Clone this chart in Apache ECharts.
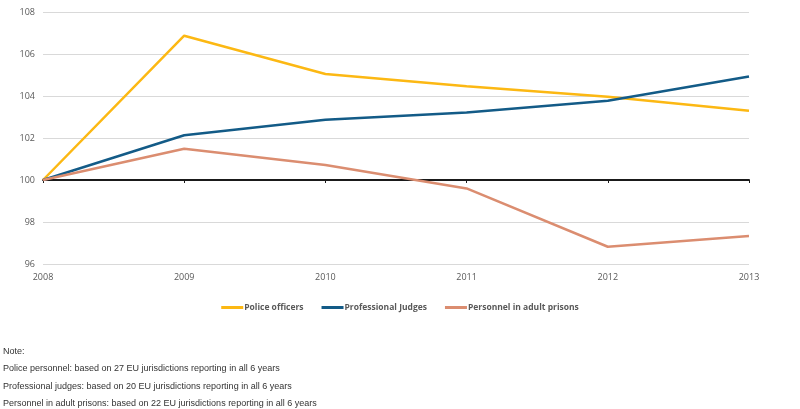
<!DOCTYPE html>
<html>
<head>
<meta charset="utf-8">
<script src="https://cdn.jsdelivr.net/npm/echarts@6/dist/echarts.min.js"></script>
<style>
html,body{margin:0;padding:0;background:#fff;}
#chart{width:800px;height:409px;}
</style>
</head>
<body>
<div id="chart"></div>
<script>
// years and index values (2008 = 100)
var years = ['2008', '2009', '2010', '2011', '2012', '2013'];
var police = [100, 106.87, 105.05, 104.47, 103.96, 103.3];
var judges = [100, 102.13, 102.87, 103.22, 103.77, 104.93];
var prisons = [100, 101.49, 100.71, 99.6, 96.82, 97.33];
var noteLines = [
    'Note:',
    'Police personnel: based on 27 EU jurisdictions reporting in all 6 years',
    'Professional judges: based on 20 EU jurisdictions reporting in all 6 years',
    'Personnel in adult prisons: based on 22 EU jurisdictions reporting in all 6 years'
];

var myChart = echarts.init(document.getElementById('chart'));

var notes = [];
for (var i = 0; i < noteLines.length; i++) {
    notes.push({
        type: 'text',
        left: 3,
        top: 347 + i * 17.3,
        style: {
            text: noteLines[i],
            fill: '#333',
            font: '9px "Liberation Sans", Arial, sans-serif'
        }
    });
}

function line(name, data, color) {
    return {
        name: name,
        type: 'line',
        data: data,
        symbol: 'none',
        lineStyle: { width: 2.5, color: color },
        itemStyle: { color: color }
    };
}

var option = {
    animation: false,
    grid: { left: 43, right: 51, top: 12, bottom: 145 },
    legend: {
        bottom: 92,
        left: 'center',
        itemWidth: 22,
        itemHeight: 3,
        itemGap: 18,
        icon: 'rect',
        textStyle: { color: '#595959', fontSize: 8.5, fontWeight: 'bold', fontFamily: 'Open Sans, sans-serif', padding: [0, 0, 0, -4] },
        data: ['Police officers', 'Professional Judges', 'Personnel in adult prisons']
    },
    xAxis: [
        {
            type: 'category',
            boundaryGap: false,
            data: years,
            axisLine: { show: false },
            axisTick: { show: false },
            axisLabel: { color: '#595959', fontSize: 9, margin: 9, fontFamily: 'Open Sans, sans-serif' }
        },
        {
            // the thick baseline drawn at 100
            type: 'category',
            boundaryGap: false,
            data: years,
            position: 'bottom',
            offset: -84,
            axisLine: { show: true, lineStyle: { color: '#1a1a1a', width: 2 } },
            axisTick: { show: true, length: 3, lineStyle: { color: '#1a1a1a' } },
            axisLabel: { show: false }
        }
    ],
    yAxis: {
        type: 'value',
        min: 96,
        max: 108,
        interval: 2,
        axisLine: { show: false },
        axisTick: { show: false },
        axisLabel: { color: '#595959', fontSize: 9, margin: 8, fontFamily: 'Open Sans, sans-serif' },
        splitLine: { lineStyle: { color: '#d9d9d9', width: 1 } }
    },
    graphic: notes,
    series: [
        line('Police officers', police, '#fcb813'),
        line('Professional Judges', judges, '#135b87'),
        line('Personnel in adult prisons', prisons, '#db8d70')
    ]
};

myChart.setOption(option);
</script>
</body>
</html>
